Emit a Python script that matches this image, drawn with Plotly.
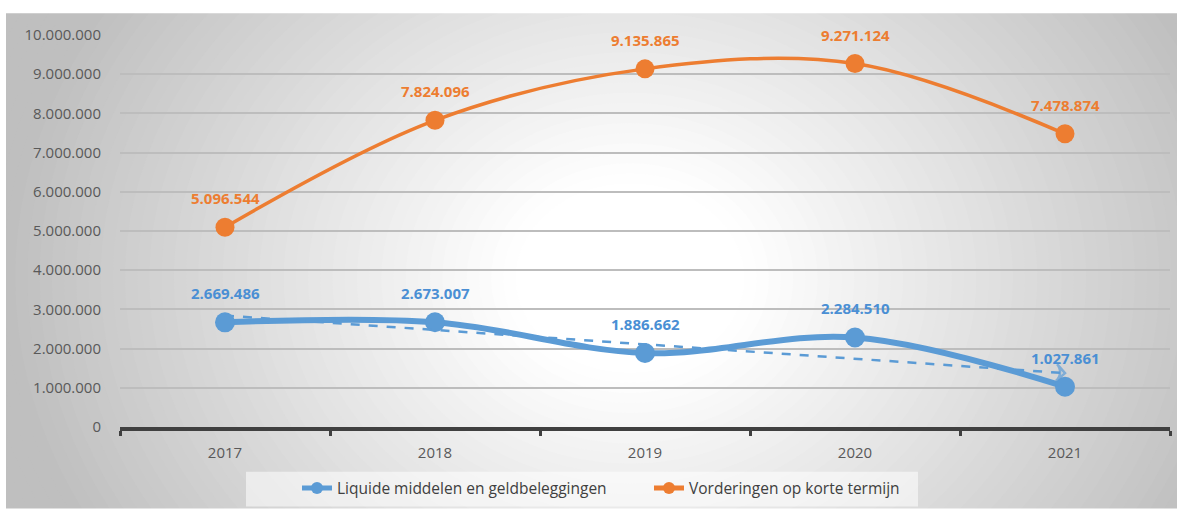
import numpy as np
import plotly.graph_objects as go

years = ["2017", "2018", "2019", "2020", "2021"]
liquide = [2669486, 2673007, 1886662, 2284510, 1027861]
vorderingen = [5096544, 7824096, 9135865, 9271124, 7478874]
name_liq = "Liquide middelen en geldbeleggingen"
name_vor = "Vorderingen op korte termijn"

BLUE = "#5B9BD5"
ORANGE = "#ED7D31"
FONT = "Open Sans"

W, H = 1177, 513
ML, MR, MT, MB = 120, 7, 35, 83
PW, PH = W - ML - MR, H - MT - MB


def px(x):
    return (x - ML) / PW


def py(y):
    return (H - MB - y) / PH


def fmt(v):
    return f"{v:,}".replace(",", ".")


# linear trendline of the blue series
xi = np.arange(len(liquide))
slope, intercept = np.polyfit(xi, liquide, 1)
trend = [intercept, intercept + slope * xi[-1]]

fig = go.Figure()

fig.add_trace(go.Scatter(
    x=years, y=liquide, name=name_liq, mode="lines+markers",
    line=dict(color=BLUE, width=6, shape="spline", smoothing=1.0),
    marker=dict(color=BLUE, size=20), cliponaxis=False))

fig.add_trace(go.Scatter(
    x=[years[0], years[-1]], y=trend, mode="lines+markers",
    line=dict(color=BLUE, width=2.5, dash="dash"),
    marker=dict(symbol=["circle", "arrow-wide-open"], size=[0, 12], angleref="previous",
                color=BLUE, line=dict(color=BLUE, width=2.5)),
    showlegend=False, hoverinfo="skip", cliponaxis=False))

fig.add_trace(go.Scatter(
    x=years, y=vorderingen, name=name_vor, mode="lines+markers",
    line=dict(color=ORANGE, width=3.5, shape="spline", smoothing=1.0),
    marker=dict(color=ORANGE, size=19), cliponaxis=False))

annotations = []
for ys, col in ((liquide, "#4A8FD4"), (vorderingen, ORANGE)):
    for i, yv in enumerate(ys):
        annotations.append(dict(
            x=i, y=yv, text=f"<b>{fmt(yv)}</b>", showarrow=False,
            yshift=29, font=dict(family=FONT, size=15, color=col)))

# radial gradient background approximation
shapes = []
cx, cy = 630, 280
rx0, ry0 = 600, 500
steps = np.linspace(1.35, 0.15, 60)
for r in steps:
    t = min(max((r - 0.2) / 0.85, 0), 1)
    c = int(round(255 - 64 * t))
    shapes.append(dict(
        type="circle", xref="paper", yref="paper", layer="below",
        x0=px(cx - rx0 * r), x1=px(cx + rx0 * r),
        y0=py(cy + ry0 * r), y1=py(cy - ry0 * r),
        fillcolor=f"rgb({c},{c},{c})", line=dict(width=0)))
# white outer margins
for (x0, y0, x1, y1) in ((-10, -10, W + 10, 13), (-10, -10, 6, H + 10), (-10, 512, W + 10, H + 10)):
    shapes.append(dict(type="rect", xref="paper", yref="paper", layer="below",
                       x0=px(x0), x1=px(x1), y0=py(y1), y1=py(y0),
                       fillcolor="white", line=dict(width=0)))
# legend box
shapes.append(dict(type="rect", xref="paper", yref="paper", layer="below",
                   x0=px(246), x1=px(918), y0=py(510), y1=py(475),
                   fillcolor="rgba(255,255,255,0.55)", line=dict(width=0)))

fig.update_layout(
    width=W, height=H,
    margin=dict(l=ML, r=MR, t=MT, b=MB),
    paper_bgcolor="white", plot_bgcolor="rgba(0,0,0,0)",
    separators=",.",
    font=dict(family=FONT, size=14, color="#595959"),
    shapes=shapes, annotations=annotations,
    showlegend=True,
    legend=dict(orientation="h", x=px(297), xanchor="left", y=py(492), yanchor="middle",
                bgcolor="rgba(0,0,0,0)", font=dict(family=FONT, size=15.5, color="#404040"),
                itemsizing="constant", entrywidth=307, entrywidthmode="pixels",
                traceorder="normal"),
    xaxis=dict(type="category", categoryorder="array", categoryarray=years,
               range=[-0.5, len(years) - 0.5], autorange=False,
               tickson="boundaries", ticks="outside", ticklen=5,
               tickwidth=3, tickcolor="#404040", showline=True, linewidth=4,
               linecolor="#404040", showgrid=False, ticklabelstandoff=9,
               tickfont=dict(size=15, color="#595959")),
    yaxis=dict(range=[0, 10_000_000], dtick=1_000_000, tickformat=",d",
               showgrid=True, gridcolor="#bdbdbd", gridwidth=1.5, zeroline=False,
               showline=False, ticks="", ticklabelstandoff=18,
               tickfont=dict(size=15, color="#595959")),
)

fig.write_html("out.html", config={"displayModeBar": False},
               post_script="document.body.style.margin='0';")
